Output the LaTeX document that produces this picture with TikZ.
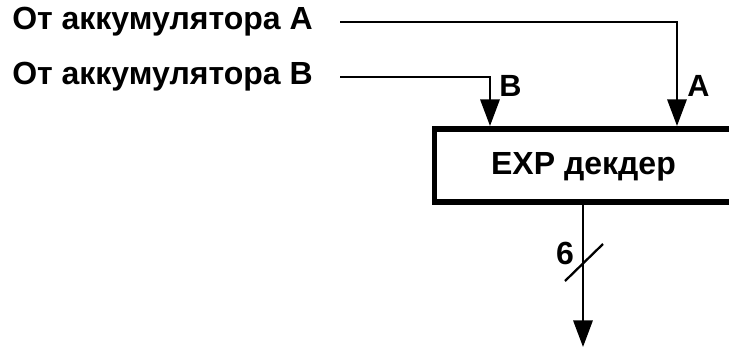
\documentclass[tikz,border=0pt]{standalone}
\usepackage{fontspec}
\setmainfont{Liberation Sans}
\usetikzlibrary{arrows.meta}
\begin{document}
\begin{tikzpicture}[x=0.75pt,y=-0.75pt,
  wire/.style={line width=1.7pt},
  arr/.style={wire,-{Triangle[length=20pt,width=14.5pt]}},
  lbl/.style={font=\fontsize{24}{28}\selectfont\bfseries,inner sep=0pt},
  slbl/.style={font=\fontsize{23}{27}\selectfont\bfseries,inner sep=0pt},
  blockbox/.style={draw,line width=4pt,rectangle,minimum width=229pt,minimum height=54.75pt,inner sep=0pt}]
\useasboundingbox (0,0) rectangle (729,347);
\clip (0,0) rectangle (729,347);
\node[blockbox] (dec) at (587,165.5) {};
\node[lbl] (dectext) at (583.5,167) {EXP декдер};
\node[lbl,anchor=west] (ta) at (12,22) {От аккумулятора А};
\node[lbl,anchor=west] (tb) at (12,77) {От аккумулятора В};
\coordinate (sa) at (340,22);
\coordinate (sb) at (340,77);
\coordinate (ea) at (677,126);
\coordinate (eb) at (490,126);
\draw[arr] (sa) -| (ea);
\draw[arr] (sb) -| (eb);
\node[slbl,anchor=west] (la) at (687,86) {A};
\node[slbl,anchor=west] (lb) at (499,86) {B};
\coordinate (os) at (583,204);
\coordinate (oe) at (583,347);
\draw[arr] (os) -- (oe);
\coordinate (s1) at (565,281);
\coordinate (s2) at (603,244);
\draw[wire] (s1) -- (s2);
\node[lbl] (six) at (565,253) {6};
\end{tikzpicture}
\end{document}
